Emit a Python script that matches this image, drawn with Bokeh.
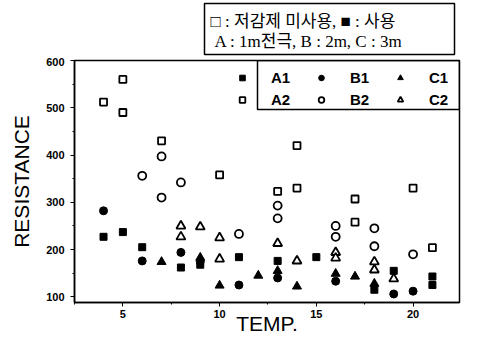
from bokeh.plotting import figure
from bokeh.layouts import column
from bokeh.models import (Range1d, SingleIntervalTicker, Legend, LegendItem,
                          BoxAnnotation, Label)
from bokeh.embed import file_html
from bokeh.resources import INLINE

# ---- data (TEMP., RESISTANCE) ----
a1_t = [4, 5, 6, 8, 9, 11, 13, 15, 18, 19, 21, 21]
a1_r = [227, 237, 205, 162, 168, 184, 176, 184, 115, 155, 143, 125]
a2_t = [4, 5, 5, 7, 10, 13, 14, 14, 17, 17, 20, 21]
a2_r = [512, 560, 490, 430, 358, 323, 420, 330, 307, 258, 330, 204]
b1_t = [4, 6, 8, 9, 11, 13, 16, 19, 20]
b1_r = [282, 176, 194, 175, 125, 140, 133, 106, 112]
b2_t = [6, 7, 7, 8, 11, 13, 13, 16, 16, 18, 18, 20]
b2_r = [356, 397, 310, 342, 233, 293, 266, 250, 227, 245, 207, 190]
c1_t = [7, 9, 10, 12, 13, 14, 16, 17, 18]
c1_r = [174, 183, 124, 145, 155, 122, 149, 143, 128]
c2_t = [8, 8, 9, 10, 10, 13, 14, 16, 16, 18, 18, 19]
c2_r = [250, 227, 248, 225, 180, 213, 176, 194, 182, 174, 157, 138]

note_line1 = "□ : 저감제 미사용, ■ : 사용"
note_line2 = "A : 1m전극, B : 2m, C : 3m"

W = 461
FRAME_L = 74
FRAME_R = W - 2

# ---- note box above the plot (its frame is aligned with the main frame) ----
p0 = figure(width=W, height=57, output_backend="svg", toolbar_location=None,
            x_range=Range1d(FRAME_L, FRAME_R), y_range=Range1d(57, 0),
            x_axis_location=None, y_axis_location=None,
            min_border=0, min_border_left=FRAME_L, min_border_right=W - FRAME_R,
            min_border_top=0, min_border_bottom=0)
p0.grid.visible = False
p0.outline_line_color = None
p0.add_layout(BoxAnnotation(left=204, right=454, top=3, bottom=54,
                            fill_alpha=0, line_color="black", line_width=1.5,
                            line_alpha=1))
for txt, xx, yy in ((note_line1, 210, 21), (note_line2, 214, 41)):
    p0.add_layout(Label(x=xx, y=yy, text=txt,
                        text_font="Liberation Serif, Noto Sans CJK KR",
                        text_font_size="17px", text_baseline="middle",
                        text_align="left", text_color="black"))

# ---- main scatter plot ----
p = figure(width=W, height=280, output_backend="svg", toolbar_location=None,
           x_range=Range1d(2.5, 22.4), y_range=Range1d(88, 600),
           min_border_left=FRAME_L, min_border_right=W - FRAME_R, min_border_top=3,
           min_border_bottom=35, x_axis_label="TEMP.", y_axis_label="RESISTANCE")
p.grid.visible = False
p.outline_line_color = "black"
p.outline_line_width = 1.5
p.outline_line_alpha = 1

p.xaxis[0].ticker = SingleIntervalTicker(interval=5, num_minor_ticks=2)
p.yaxis[0].ticker = SingleIntervalTicker(interval=100, num_minor_ticks=2)
for ax in (p.xaxis[0], p.yaxis[0]):
    ax.axis_line_width = 1.5
    ax.axis_line_color = "black"
    ax.major_tick_in = 0
    ax.major_tick_out = 4
    ax.minor_tick_in = 0
    ax.minor_tick_out = 2
    ax.major_tick_line_color = "black"
    ax.minor_tick_line_color = "black"
    ax.major_label_text_font = "Liberation Sans"
    ax.major_label_text_font_style = "bold"
    ax.major_label_text_font_size = "11px"
    ax.major_label_text_color = "black"
    ax.axis_label_text_font = "Liberation Sans"
    ax.axis_label_text_font_size = "21px"
    ax.axis_label_text_font_style = "normal"
    ax.axis_label_text_color = "black"
p.xaxis[0].major_label_standoff = 3
p.xaxis[0].axis_label_standoff = -9
p.yaxis[0].major_label_standoff = 6
p.yaxis[0].axis_label_standoff = 10

ra1 = p.scatter(a1_t, a1_r, marker="square", size=7, fill_color="black",
                line_color="black")
ra2 = p.scatter(a2_t, a2_r, marker="square", size=7, fill_color="white",
                line_color="black", line_width=1.8)
rb1 = p.scatter(b1_t, b1_r, marker="circle", size=8, fill_color="black",
                line_color="black")
rb2 = p.scatter(b2_t, b2_r, marker="circle", size=8, fill_color="white",
                line_color="black", line_width=1.8)
rc1 = p.scatter(c1_t, c1_r, marker="triangle", size=9, fill_color="black",
                line_color="black")
rc2 = p.scatter(c2_t, c2_r, marker="triangle", size=9, fill_color="white",
                line_color="black", line_width=1.8)

legend = Legend(items=[LegendItem(label="A1", renderers=[ra1]),
                       LegendItem(label="B1", renderers=[rb1]),
                       LegendItem(label="C1", renderers=[rc1]),
                       LegendItem(label="A2", renderers=[ra2]),
                       LegendItem(label="B2", renderers=[rb2]),
                       LegendItem(label="C2", renderers=[rc2])],
                location=(161, 193), orientation="horizontal", ncols=3,
                glyph_width=14, glyph_height=19, label_standoff=22,
                label_width=40, spacing=3, padding=0, margin=0,
                border_line_alpha=0, background_fill_alpha=0,
                label_text_font="Liberation Sans", label_text_font_style="bold",
                label_text_font_size="15px", label_text_color="black")
p.add_layout(legend)

p.add_layout(BoxAnnotation(left=183, bottom=193, left_units="screen",
                           bottom_units="screen", fill_alpha=0,
                           line_color="black", line_width=1.5, line_alpha=1))

layout = column(p0, p, spacing=0)
open("out.html", "w").write(file_html(layout, INLINE))
